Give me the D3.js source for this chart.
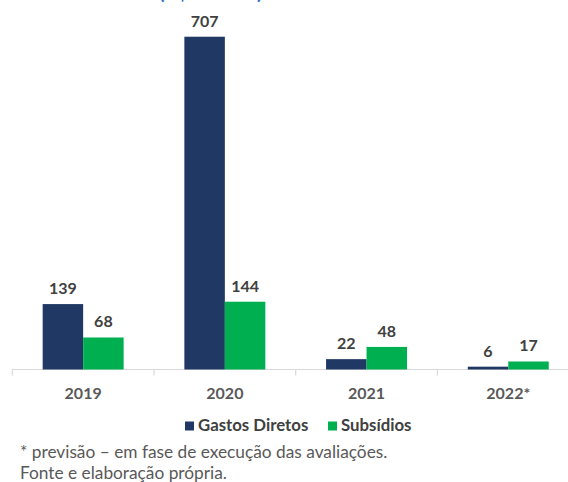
<!DOCTYPE html>
<html>
<head>
<meta charset="utf-8">
<script src="https://cdn.jsdelivr.net/npm/d3@7"></script>
<style>
  body { margin: 0; background: #fff; }
  svg { display: block; font-family: Lato, "Open Sans", sans-serif; }
</style>
</head>
<body>
<svg></svg>
<script>
// data
let years = ['2019', '2020', '2021', '2022*']
let series = ['Gastos Diretos', 'Subsídios']
let gastosDiretos = [139, 707, 22, 6]
let subsidios = [68, 144, 48, 17]
let colors = ['#203864', '#00B050']
let footnotes = ['* previsão – em fase de execução das avaliações.', 'Fonte e elaboração própria.']

let width = 568
let height = 482
let baseline = 369.5

let svg = d3.select('svg')
    .attr('width', width)
    .attr('height', height)

// category scale, last band runs off the right edge like the original crop
let x0 = d3.scaleBand()
    .domain(years)
    .range([12.3, 12.3 + 4 * 141.7])
    .padding(0)

let x1 = d3.scaleBand()
    .domain(series)
    .range([0, x0.bandwidth()])
    .paddingInner(0)
    .paddingOuter(0.75)

let y = d3.scaleLinear()
    .domain([0, 785])
    .range([baseline, 0])

let rows = years.map((yr, i) => ({ year: yr, values: [gastosDiretos[i], subsidios[i]] }))

// title cut off at the top of the picture (only its lower edge shows)
svg.append('text')
    .attr('x', 159)
    .attr('y', -1)
    .attr('fill', '#2E75B6')
    .attr('font-size', 20)
    .attr('font-weight', 'bold')
    .text('(R$ bilhões)')

// axis line and boundary ticks
svg.append('line')
    .attr('x1', x0.range()[0])
    .attr('x2', width)
    .attr('y1', baseline)
    .attr('y2', baseline)
    .attr('stroke', '#d9d9d9')
    .attr('stroke-width', 1.2)

svg.selectAll('.tick-mark')
    .data(years)
    .enter()
    .append('line')
    .attr('class', 'tick-mark')
    .attr('x1', (d) => x0(d))
    .attr('x2', (d) => x0(d))
    .attr('y1', baseline)
    .attr('y2', baseline + 6)
    .attr('stroke', '#d9d9d9')
    .attr('stroke-width', 1.2)

let xAxis = d3.axisBottom(x0).tickSize(0).tickPadding(0)
let gx = svg.append('g')
    .attr('transform', `translate(0, ${baseline + 29})`)
    .call(xAxis)
gx.select('.domain').remove()
gx.selectAll('text')
    .attr('dy', 0)
    .attr('fill', '#595959')
    .attr('font-size', 16)
    .attr('font-weight', 'bold')
    .attr('font-family', 'Lato, "Open Sans", sans-serif')

// bars
let groups = svg.selectAll('.grp')
    .data(rows)
    .enter()
    .append('g')
    .attr('class', 'grp')
    .attr('transform', (d) => `translate(${x0(d.year)}, 0)`)

groups.selectAll('rect')
    .data((d) => d.values.map((v, i) => ({ s: series[i], v: v, i: i })))
    .enter()
    .append('rect')
    .attr('x', (d) => x1(d.s))
    .attr('y', (d) => y(d.v))
    .attr('width', x1.bandwidth())
    .attr('height', (d) => baseline - y(d.v))
    .attr('fill', (d) => colors[d.i])

groups.selectAll('.val')
    .data((d) => d.values.map((v, i) => ({ s: series[i], v: v, i: i })))
    .enter()
    .append('text')
    .attr('class', 'val')
    .attr('x', (d) => x1(d.s) + x1.bandwidth() / 2)
    .attr('y', (d) => y(d.v) - 10)
    .attr('text-anchor', 'middle')
    .attr('fill', '#404040')
    .attr('font-size', 16)
    .attr('font-weight', 'bold')
    .text((d) => d.v)

// legend
let legendX = [185, 328]
let legend = svg.selectAll('.leg')
    .data(series)
    .enter()
    .append('g')
    .attr('class', 'leg')
    .attr('transform', (d, i) => `translate(${legendX[i]}, 421.5)`)

legend.append('rect')
    .attr('width', 9)
    .attr('height', 9)
    .attr('fill', (d, i) => colors[i])

legend.append('text')
    .attr('x', 13)
    .attr('y', 9.5)
    .attr('fill', '#404040')
    .attr('font-size', 16.8)
    .attr('font-weight', 'bold')
    .text((d) => d)

// footnotes
svg.selectAll('.note')
    .data(footnotes)
    .enter()
    .append('text')
    .attr('class', 'note')
    .attr('x', 20)
    .attr('y', (d, i) => 457.5 + i * 21)
    .attr('fill', '#595959')
    .attr('font-size', 17.3)
    .text((d) => d)
</script>
</body>
</html>
